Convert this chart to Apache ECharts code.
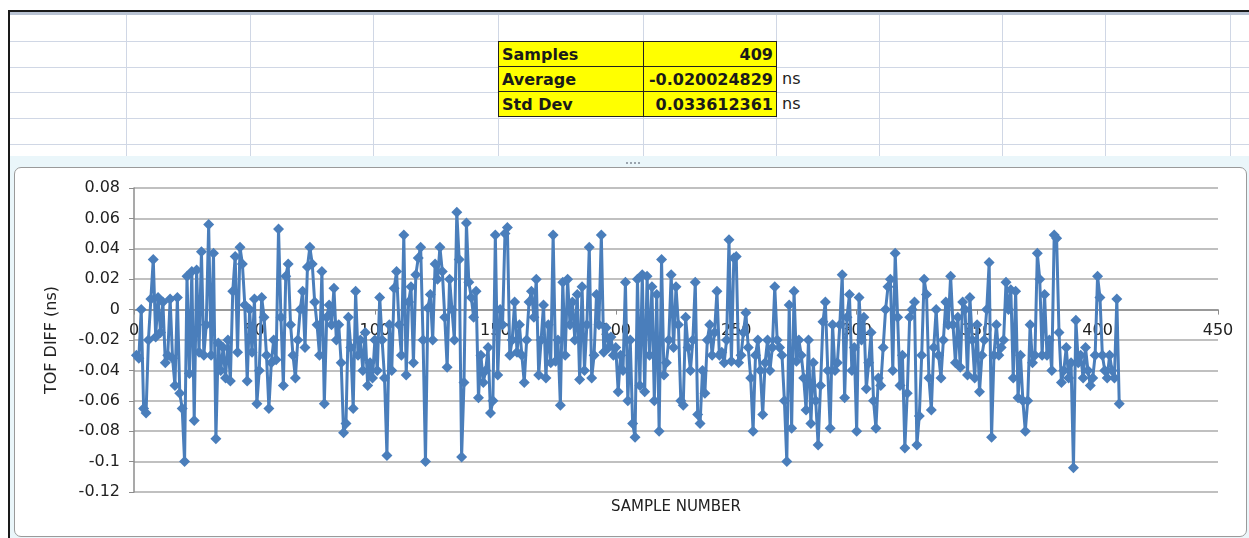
<!DOCTYPE html>
<html>
<head>
<meta charset="utf-8">
<script src="https://cdn.jsdelivr.net/npm/echarts@6/dist/echarts.min.js"></script>
<style>
  html, body { margin: 0; padding: 0; background: #ffffff; }
  #page { position: relative; width: 1249px; height: 538px; overflow: hidden; background: #ffffff; }
  .hl { position: absolute; height: 1px; background: #d0d7e5; }
  .vl { position: absolute; width: 1px; background: #d0d7e5; }
  #topbar { position: absolute; left: 9px; top: 10px; width: 1240px; height: 2px; background: #1a1a1a; }
  #topbar2 { position: absolute; left: 9px; top: 12px; width: 1240px; height: 3px; background: #b9c3d3; }
  #leftbar { position: absolute; left: 8px; top: 10px; width: 2px; height: 528px; background: #1a1a1a; }
  #frame { position: absolute; left: 10px; top: 156px; width: 1239px; height: 382px; background: #eaf6fa; }
  #box { position: absolute; left: 14px; top: 167px; width: 1231px; height: 368px; background: #ffffff;
         border: 1px solid #9a9a9a; border-radius: 7px; }
  #stats { position: absolute; left: 498px; top: 41px; border-collapse: collapse; }
  #stats td { background: #ffff00; border: 1.5px solid #222; height: 24px; padding: 0 3px;
              font-family: "DejaVu Sans", sans-serif; font-weight: bold; font-size: 16px; color: #1a1a1a; }
  #stats td.k { width: 138px; text-align: left; }
  #stats td.v { width: 126px; text-align: right; }
  .ns { position: absolute; left: 782px; font-family: "DejaVu Sans", sans-serif; font-size: 16px; color: #222; }
  #dots { position: absolute; left: 626px; top: 162px; width: 14px; height: 0; border-top: 2px dotted #9aa4ae; }
  #chart { position: absolute; left: 0; top: 0; width: 1249px; height: 538px; }
</style>
</head>
<body>
<div id="page">
  <div id="frame"></div>
  <div id="box"></div>
  <div id="sheetlines"></div>
  <div id="topbar"></div>
  <div id="topbar2"></div>
  <div id="leftbar"></div>
  <table id="stats">
    <tr><td class="k">Samples</td><td class="v">409</td></tr>
    <tr><td class="k">Average</td><td class="v">-0.020024829</td></tr>
    <tr><td class="k">Std Dev</td><td class="v">0.033612361</td></tr>
  </table>
  <div class="ns" style="top:69px">ns</div>
  <div class="ns" style="top:94px">ns</div>
  <div id="dots"></div>
  <div id="chart"></div>
</div>
<script>
// ---- data (TOF difference in ns, one value per sample, samples 1..409) ----
const tofDiff = [
  -0.030, -0.032, 0.000, -0.065, -0.068, -0.020, 0.007, 0.033, -0.018, 0.008,
  -0.015, 0.005, -0.035, -0.030, 0.007, -0.032, -0.050, 0.008, -0.055, -0.065,
  -0.100, 0.022, -0.042, 0.025, -0.073, 0.026, -0.028, 0.038, -0.030, -0.010,
  0.056, -0.030, 0.037, -0.085, -0.022, -0.040, -0.025, -0.045, -0.020, -0.047,
  0.012, 0.035, -0.028, 0.041, 0.030, 0.003, -0.047, 0.000, -0.028, 0.007,
  -0.062, -0.040, 0.008, -0.005, -0.030, -0.065, -0.035, -0.020, -0.033, 0.053,
  -0.005, -0.050, 0.022, 0.030, -0.010, -0.030, -0.045, -0.020, 0.000, 0.012,
  -0.025, 0.028, 0.041, 0.030, 0.005, -0.010, -0.030, 0.025, -0.062, -0.005,
  0.003, -0.010, 0.014, -0.020, -0.010, -0.035, -0.081, -0.075, -0.005, -0.025,
  -0.065, 0.012, -0.030, -0.020, -0.040, -0.015, -0.050, -0.035, -0.045, -0.020,
  -0.040, 0.008, -0.020, -0.045, -0.096, -0.010, -0.040, 0.014, 0.025, -0.010,
  -0.030, 0.049, -0.043, 0.005, 0.015, -0.035, 0.023, 0.034, 0.041, -0.020,
  -0.100, 0.001, 0.010, -0.020, 0.030, 0.020, 0.041, 0.025, -0.005, -0.038,
  0.020, 0.000, -0.020, 0.064, 0.033, -0.097, -0.048, 0.057, 0.018, 0.008,
  -0.005, 0.012, -0.058, -0.030, -0.048, -0.040, -0.025, -0.068, -0.060, 0.049,
  -0.043, 0.000, -0.010, 0.050, 0.054, -0.030, -0.020, 0.005, -0.028, -0.010,
  -0.030, -0.048, -0.020, 0.005, 0.012, -0.005, 0.020, -0.043, -0.020, 0.003,
  -0.045, -0.010, -0.035, 0.049, -0.034, -0.020, -0.063, 0.018, -0.030, 0.020,
  -0.010, 0.005, -0.020, 0.010, -0.046, 0.015, -0.040, -0.010, 0.041, -0.045,
  -0.030, 0.010, -0.010, 0.049, -0.028, -0.012, -0.025, -0.018, -0.030, -0.025,
  -0.054, -0.030, -0.040, 0.018, -0.060, -0.020, -0.075, -0.084, 0.020, -0.050,
  0.023, -0.054, 0.022, -0.030, 0.015, -0.060, 0.010, -0.080, 0.033, -0.043,
  -0.035, -0.020, 0.023, -0.025, 0.015, -0.010, -0.060, -0.063, -0.005, -0.025,
  -0.040, -0.020, 0.018, -0.069, -0.075, -0.040, -0.055, -0.020, -0.010, -0.030,
  -0.015, 0.012, -0.030, -0.028, -0.035, -0.020, 0.046, -0.034, 0.034, 0.035,
  -0.035, -0.030, -0.015, -0.002, -0.025, -0.045, -0.080, -0.030, -0.020, -0.040,
  -0.069, -0.035, -0.020, -0.040, -0.025, 0.015, -0.020, -0.025, -0.030, -0.060,
  -0.100, 0.003, -0.078, 0.012, -0.034, -0.020, -0.030, -0.045, -0.066, -0.020,
  -0.075, -0.035, -0.060, -0.089, -0.050, -0.008, 0.005, -0.040, -0.078, -0.010,
  -0.040, -0.035, -0.010, 0.023, -0.058, -0.005, 0.010, -0.040, -0.025, -0.080,
  0.008, -0.020, -0.005, -0.052, -0.035, -0.015, -0.060, -0.078, -0.045, -0.050,
  -0.025, 0.000, 0.015, 0.020, -0.040, 0.037, -0.005, -0.050, -0.030, -0.091,
  -0.055, -0.005, 0.000, 0.005, -0.089, -0.070, -0.030, 0.020, 0.010, -0.045,
  -0.066, -0.025, 0.000, -0.030, -0.045, -0.020, 0.005, -0.010, 0.022, -0.010,
  -0.035, -0.005, -0.038, 0.005, 0.000, -0.043, 0.008, -0.020, -0.045, -0.010,
  -0.054, -0.030, -0.020, 0.000, 0.031, -0.084, -0.030, -0.010, -0.030, -0.025,
  -0.020, 0.018, 0.000, 0.013, -0.045, 0.012, -0.058, -0.030, -0.060, -0.080,
  -0.060, -0.010, -0.035, -0.030, 0.037, 0.020, -0.030, 0.010, -0.030, -0.020,
  -0.040, 0.049, 0.047, -0.015, -0.048, -0.040, -0.025, -0.045, -0.035, -0.104,
  -0.007, -0.035, -0.030, -0.045, -0.025, -0.040, -0.050, -0.045, -0.030, 0.022,
  0.008, -0.030, -0.040, -0.045, -0.030, -0.040, -0.045, 0.007, -0.062
];
const yAxisTitle = "TOF DIFF (ns)";
const xAxisTitle = "SAMPLE NUMBER";

// ---- spreadsheet grid lines (background decoration) ----
const sheetRows = [41, 67, 92, 118, 144];
const sheetCols = [126, 250, 373, 498, 643, 776, 879, 1002, 1105, 1230];
(function () {
  const host = document.getElementById('sheetlines');
  sheetRows.forEach(y => {
    const d = document.createElement('div');
    d.className = 'hl'; d.style.left = '10px'; d.style.width = '1239px'; d.style.top = y + 'px';
    host.appendChild(d);
  });
  sheetCols.forEach(x => {
    const d = document.createElement('div');
    d.className = 'vl'; d.style.left = x + 'px'; d.style.top = '15px'; d.style.height = '141px';
    host.appendChild(d);
  });
})();

const seriesData = tofDiff.map((v, i) => [i + 1, v]);
const chart = echarts.init(document.getElementById('chart'), null, { renderer: 'canvas' });
const axisGray = '#8c8c8c';
const gridTop = 188, gridBottom = 46, chartH = 538;
const yMin = -0.12, yMax = 0.08;
// pixel distance from the bottom of the plot up to the y = 0 line
const zeroOffset = (chartH - gridTop - gridBottom) * (0 - yMin) / (yMax - yMin);
chart.setOption({
  animation: false,
  backgroundColor: 'transparent',
  grid: { left: 134, right: 31, top: gridTop, bottom: gridBottom, containLabel: false },
  xAxis: {
    type: 'value', min: 0, max: 450, interval: 50,
    position: 'bottom', offset: -zeroOffset,
    axisLine: { show: true, onZero: false, lineStyle: { color: axisGray, width: 1.5 } },
    axisTick: { show: true, length: 5, lineStyle: { color: axisGray } },
    axisLabel: { margin: 13, fontFamily: 'DejaVu Sans', fontSize: 16, color: '#222' },
    splitLine: { show: false }
  },
  yAxis: {
    type: 'value', min: yMin, max: yMax, interval: 0.02,
    axisLine: { show: true, lineStyle: { color: axisGray, width: 1.5 } },
    axisTick: { show: true, length: 5, lineStyle: { color: axisGray } },
    axisLabel: {
      margin: 14, fontFamily: 'DejaVu Sans', fontSize: 16, color: '#222',
      formatter: v => String(parseFloat(v.toFixed(2)))
    },
    splitLine: { show: true, lineStyle: { color: '#ababab', width: 1.5 } },
    name: yAxisTitle, nameLocation: 'middle', nameGap: 74, nameRotate: 90,
    nameTextStyle: { fontFamily: 'DejaVu Sans', fontSize: 16, color: '#222' }
  },
  graphic: [{
    type: 'text', x: 676, y: 507,
    style: { text: xAxisTitle, fontFamily: 'DejaVu Sans', fontSize: 15, fill: '#222',
             align: 'center', verticalAlign: 'middle' }
  }],
  series: [{
    type: 'line',
    data: seriesData,
    symbol: 'diamond', symbolSize: 11,
    lineStyle: { color: '#4a7ebb', width: 3 },
    itemStyle: { color: '#4a7ebb' },
    z: 3
  }]
});
</script>
</body>
</html>
